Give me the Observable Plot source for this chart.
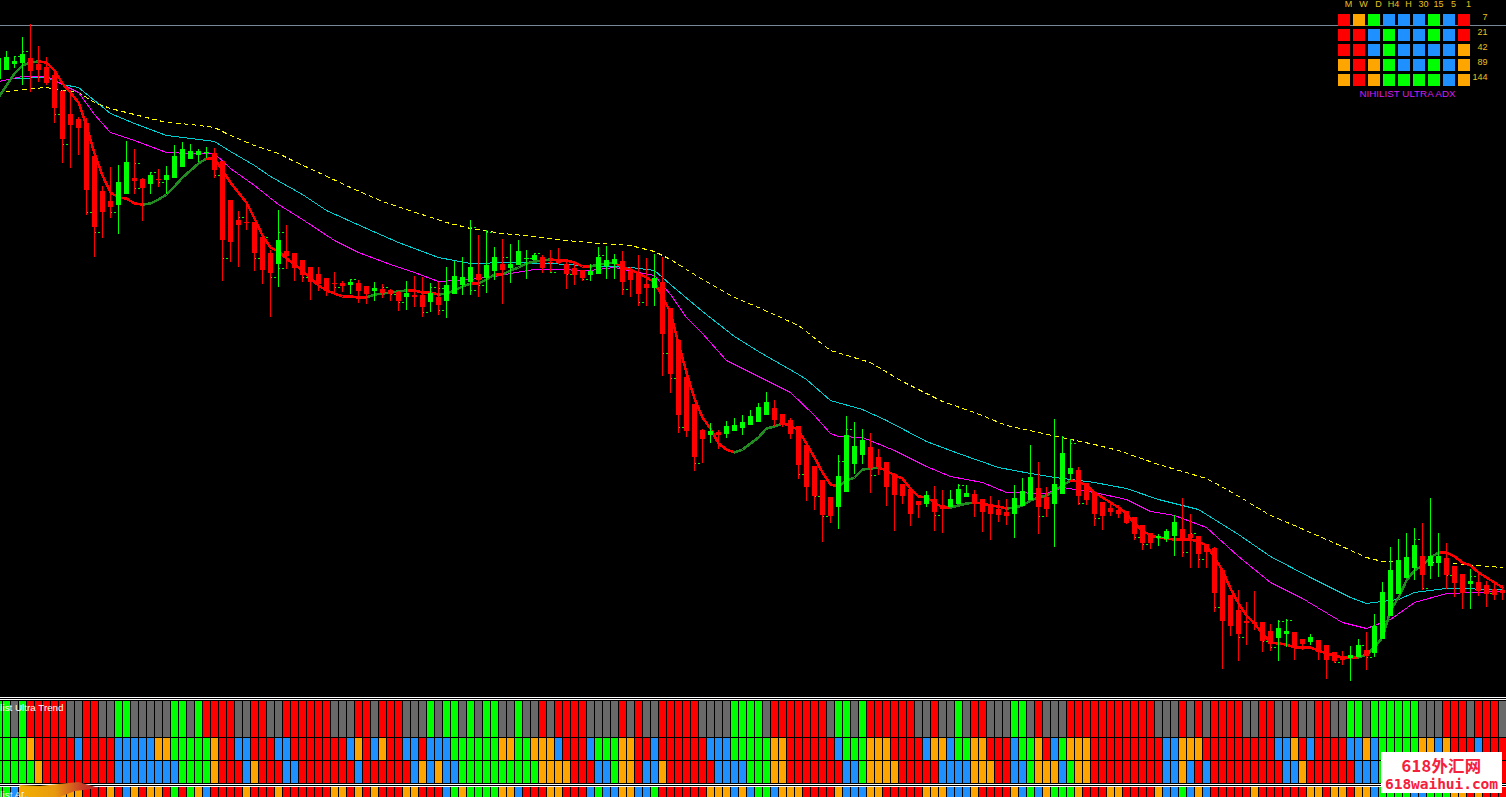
<!DOCTYPE html>
<html>
<head>
<meta charset="utf-8">
<script src="https://cdn.jsdelivr.net/npm/d3@7"></script>
<script src="https://cdn.jsdelivr.net/npm/@observablehq/plot@0.6"></script>
<style>
html,body{margin:0;padding:0;background:#000;overflow:hidden}
#chart{position:relative;width:1506px;height:797px;overflow:hidden;background:#000}
#chart svg{position:absolute;display:block;max-width:none}
.sep{position:absolute;left:0;width:1506px;height:1px;background:#fff}
#swoosh{position:absolute;left:19px;top:782px;width:80px;height:15px;background:linear-gradient(90deg,#f2b000,#e89a10 45%,#c83a28 80%,#b02a2a);clip-path:polygon(0 20%,26% 27%,74% 0,100% 40%,70% 60%,51% 100%,10% 100%,4% 53%)}
#mark{position:absolute;left:1381px;top:752px;width:121px;height:41px;background:#fff;color:#f5203c;text-align:center;font-weight:bold}
#mark .a{font:bold 16.4px/20px "Noto Sans CJK SC",sans-serif;letter-spacing:.3px;margin-top:3px}
#mark .b{font:bold 14.6px/17px "DejaVu Sans Mono",monospace;letter-spacing:-.1px;margin-top:0}
</style>
</head>
<body>
<div id="chart"></div>
<script>
const candleColors = "G4 R11 G2 R2 G1 R1 G6 R8 G1 R8 G1 R2 G1 R3 G1 R2 G1 R1 G4 R1 G2 R1 G4 R6 G4 R4 G1 R6 G1 R1 G6 R8 G4 R7 G1 R2 G3 R5 G3 R2 G3 R10 G3 R12 G2 R2 G1 R4 G2 R1 G6 R1 G2 R3 G1 R4";
const bodyTop = [58,57,61,54,58,64,67,75,91,114,
119,123,156,191,201,182,162,178,179,175,
179,175,156,149,151,151,152,153,161,200,
220,222,222,237,253,240,251,253,260,267,
274,278,283,283,282,283,286,288,289,290,
292,293,295,295,293,297,285,276,277,267,
274,265,257,264,264,251,258,255,257,262,
262,264,268,270,271,257,260,259,261,271,
273,284,278,282,308,340,377,404,430,431,
432,426,425,422,416,407,402,408,414,420,
426,445,466,480,497,476,435,446,440,447,
457,462,474,484,489,501,495,499,505,499,
489,493,494,499,504,509,512,498,491,477,
488,497,484,453,468,470,483,492,502,508,
510,511,517,525,533,536,531,522,529,534,
536,544,548,570,595,610,621,622,622,631,
628,631,632,639,637,640,645,652,656,655,
645,650,626,592,570,560,557,545,556,556,
556,558,566,574,581,582,585,589,590];
const bodyBottom = [79,70,64,63,71,70,83,108,139,125,
128,190,227,212,207,205,194,181,188,184,
180,180,178,167,159,155,153,170,240,242,
225,223,253,270,273,264,256,268,275,282,
284,290,284,286,285,291,294,291,293,294,
301,297,297,307,302,305,301,294,285,282,
280,278,271,270,268,265,259,260,268,263,
263,274,275,278,275,274,266,264,282,280,
294,288,288,334,374,415,431,457,439,435,
435,434,431,428,425,422,415,420,425,434,
465,487,496,515,516,507,492,464,455,468,
467,487,495,496,514,505,504,512,509,507,
504,497,504,512,514,515,516,514,506,500,
507,509,504,494,474,496,500,514,516,512,
514,523,534,543,543,538,539,536,540,538,
554,552,593,621,626,634,623,624,641,644,
638,634,647,644,642,652,660,661,660,658,
657,656,653,639,616,594,578,568,575,566,
563,575,583,593,584,591,594,595,593];
const wickHigh = [50,51,56,37,24,46,57,73,90,90,
117,118,156,186,167,165,141,149,178,172,
169,166,145,142,144,149,147,148,161,200,
211,202,222,235,250,210,225,253,260,267,
267,278,272,281,279,280,286,282,284,289,
291,281,276,277,283,282,267,261,257,220,
235,230,247,239,244,240,250,253,255,250,
248,260,262,270,264,247,246,254,251,267,
255,258,254,257,308,340,377,404,429,423,
430,421,418,415,410,403,392,400,414,418,
426,445,466,480,497,455,416,422,429,433,
449,462,473,484,489,501,491,486,490,490,
484,485,490,499,496,500,499,485,478,445,
462,487,419,436,439,467,483,492,502,502,
505,511,517,525,533,534,529,515,498,514,
536,544,547,570,595,590,602,591,622,624,
620,619,632,639,634,640,645,652,651,646,
639,632,614,582,547,539,533,528,523,498,
533,543,566,574,569,574,581,584,585];
const wickLow = [86,70,68,85,92,82,85,123,163,168,
155,215,257,238,218,234,194,194,221,194,
187,194,178,167,159,162,158,178,281,262,
267,230,271,284,317,287,269,281,282,300,
291,296,292,292,294,303,304,301,298,301,
311,310,307,317,312,315,318,294,295,295,
297,293,280,304,283,265,279,260,273,272,
264,289,285,281,281,274,279,279,295,297,
306,306,306,376,393,433,437,471,463,443,
449,438,431,435,425,422,415,426,427,439,
479,501,510,542,523,529,492,474,464,493,
475,506,531,504,526,518,507,531,533,507,
504,497,517,532,540,522,525,538,506,500,
534,517,547,494,480,505,505,526,530,516,
518,524,540,550,549,546,542,556,557,568,
568,568,612,669,636,661,645,630,652,651,
661,647,660,650,645,660,679,663,665,681,
657,670,657,639,616,594,578,580,590,579,
577,589,597,609,609,596,607,600,600];

// the thick coloured average, one value per candle
const trendLine = [97,85,73,65,62,61,62,70,83,92,
102,125,153,175,192,197,198,203,204,203,
199,194,186,177,170,163,158,158,170,182,
192,202,218,235,247,251,258,264,270,278,
285,290,293,296,296,297,297,294,293,292,
291,290,290,292,292,294,293,290,286,283,
283,279,274,274,270,267,263,261,260,259,
260,260,262,266,266,264,263,262,267,269,
273,277,282,296,312,343,372,398,417,428,
443,449,452,449,443,437,428,426,423,425,
430,443,457,472,484,486,480,477,469,468,
467,470,475,478,488,496,497,502,507,507,
505,503,502,503,505,506,508,507,505,500,
497,495,490,485,480,481,485,492,497,502,
507,513,523,530,535,537,538,539,539,539,
541,545,557,570,588,603,615,623,633,642,
643,644,647,647,647,650,653,655,657,657,
657,654,647,637,610,597,580,570,565,557,
552,552,556,562,565,572,577,582,587];

const yellowIndex = [0,3,6,8,10,12,14,17,21,24,27,29,32,35,37,40,44,48,51,56,59,63,67,71,75,79,82,84,88,92,95,100,104,109,113,118,122,126,130,137,140,145,151,154,159,162,166,171,173,180,188];
const yellowLevel = [92,89,87,90,92,102,108,114,122,124,127,135,145,153,161,172,187,201,209,222,228,233,236,240,243,245,251,259,279,297,307,325,350,362,381,401,412,425,432,444,450,464,478,491,515,525,539,557,561,562,567];
const cyanIndex = [0,2,6,8,10,12,14,17,21,24,27,29,32,34,38,41,46,50,55,59,64,69,73,79,82,84,88,92,95,100,101,104,108,111,116,120,125,129,132,137,141,145,150,155,159,164,169,171,175,177,181,188];
const cyanLevel = [81,78,77,84,87,100,113,123,135,138,141,151,165,176,194,210,228,242,257,263,262,263,265,267,270,284,311,336,351,374,379,400,409,420,441,453,467,473,477,482,488,499,509,534,556,577,597,603,599,592,588,589];
const magentaIndex = [0,3,6,8,10,12,14,17,21,24,27,29,32,35,38,42,45,49,52,55,59,62,64,67,69,74,77,80,82,84,86,88,91,96,99,102,104,105,108,112,116,119,123,126,131,133,137,141,144,147,151,155,159,163,168,171,174,177,181,188];
const magentaLevel = [81,76,76,84,92,114,132,140,152,153,153,168,185,204,219,240,252,264,272,281,279,276,273,269,269,270,267,272,275,294,317,333,360,380,392,415,433,436,437,450,466,476,482,492,493,487,492,499,511,515,527,556,582,598,622,628,619,602,593,591];

// small green dashes beside the candles
const dashIndex = [2,3,7,8,11,12,14,17,17,19,20,27,28,30,32,33,34,35,35,38,42,44,48,49,50,53,54,55,55,59,59,60,61,63,66,67,69,71,73,75,78,80,83,84,85,87,100,102,103,105,106,109,117,120,130,134,135,137,142,143,145,148,149,150,152,155,158,159,160,161,167,170,171,177,178,181,184,186];
const dashLevel = [56,51,114,144,212,232,212,163,188,172,182,175,258,217,258,237,277,232,268,277,287,279,287,294,302,312,287,288,310,227,290,285,232,257,258,253,272,274,279,255,289,302,353,378,427,463,474,496,516,461,429,475,515,485,516,443,503,518,537,544,537,552,533,559,607,637,641,647,621,620,662,645,657,539,588,575,576,593];

// Nihilist Ultra Trend rows and the row below them, one colour letter per bar as letter + run length
const trendRow1 = "G2 K1 G1 R5 K2 R2 K2 G2 K5 G2 K1 G1 R4 K2 R2 K2 R6 K3 R2 K1 R3 K3 G1 K1 G2 K1 G1 K1 G2 K2 G1 K2 R1 K1 R4 K4 R1 K1 R1 K2 R5 K4 G4 K1 R4 R3 K1 G2 K1 G1 R6 K2 R1 K2 G1 K1 R2 K3 G2 K1 R1 K3 R11 K3 R1 K1 R1 K1 R4 K2 R2 K2 R1 K2 R2 K2 G2 K1 G6 K3 R3 K1 R3 K1";
const trendRow2 = "G4 O1 R5 B1 R4 B5 O2 G5 O1 R2 B2 R3 B2 R7 B1 O1 R1 B1 O1 R2 B2 R1 B3 G6 O2 G2 O3 B1 R3 B1 G3 O2 R2 B1 R6 B3 G5 O2 R2 R4 B1 G3 O3 R4 B1 O2 B1 G2 O2 R3 B1 G2 O1 R1 B1 G1 O3 R9 B2 O3 R9 B2 O1 R1 B1 R4 B2 O1 B1 G5 O2 B1 O1 R3 B1 R3";
const trendRow3 = "G5 O1 R9 B8 G4 O1 R3 B1 O1 R3 B2 R7 B1 R5 R1 B1 O1 B1 O1 B2 G10 O4 R3 B2 G1 O2 R1 B2 O1 R6 B4 G3 O2 R2 R5 B2 G1 O4 R5 B4 O3 R2 B2 G1 O3 B1 G1 O2 R9 B2 O1 B1 R1 B1 R9 B2 O1 R6 B3 G5 O2 B1 O1 R3 B1 R3";
const adxRow = "G2 B1 O8 R3 O1 R1 B1 O1 R1 O2 R1 G1 R1 G1 O1 B1 R4 O1 R3 O1 R6 O2 R1 O1 R1 O1 R3 O2 R3 B1 G1 O1 G4 O2 B1 R3 O2 R3 B1 G1 B2 O2 B2 G1 R6 O3 B1 O1 B1 G2 B1 O3 R4 O1 B3 O2 R5 O3 B3 O1 R4 O1 B1 G1 B1 O1 G3 O1 R3 O2 R4 O1 B2 G1 B1 O1 B1 R5 O1 R6 O2 R1 O2 R1 O2 B1 G4 B2 G3 O2 R1 O1 R3";

// top-right strength matrix
const matrixColumns = ["M","W","D","H4","H","30","15","5","1"];
const matrixRows = ["7","21","42","89","144"];
const matrixCells = ["ROGBBBGBR","RRBGBBGBR","RRBGBBBBO","OROGBBGBO","OROGGGGBO"];

const palette = {R:"#ff0000",G:"#00ff00",B:"#1e90ff",O:"#ffa500",K:"#696969"};

// ---- helpers ----
const expand = s => s.split(" ").flatMap(r => Array(+r.slice(1)).fill(r[0]));
const root = document.getElementById("chart");
function place(svg, left, top){ svg.style.left = left+"px"; svg.style.top = top+"px"; root.appendChild(svg); }
function div(cls, top){ const d=document.createElement("div"); d.className=cls; if(top!=null)d.style.top=top+"px"; root.appendChild(d); return d; }

const N = bodyTop.length;
const colors = expand(candleColors);
const candles = d3.range(N).map(i => ({i, top:bodyTop[i], bottom:bodyBottom[i], high:wickHigh[i], low:wickLow[i], color:palette[colors[i]]}));
const trend = trendLine.map((v,i) => ({i, v, color: (i+1<N ? trendLine[i+1]<v : v<trendLine[i-1]) ? "#228b22" : "#ff0000"}));
const pairs = (a,b) => a.map((x,k) => ({i:x, v:b[k]}));
const dashes = pairs(dashIndex, dashLevel);

// ---- price pane ----
place(Plot.plot({
  width:1506, height:701, margin:0,
  style:{background:"#000", shapeRendering:"crispEdges"},
  x:{domain:[0,188], range:[-2,1502], axis:null},
  y:{domain:[0,701], range:[0,701], axis:null},
  color:{type:"identity"},
  marks:[
    Plot.ruleY([25],{stroke:"#778899"}),
    Plot.ruleY([697,699],{stroke:"#fff"}),
    Plot.line(pairs(yellowIndex,yellowLevel),{x:"i",y:"v",stroke:"#ffff00",strokeWidth:1,strokeDasharray:"4,4"}),
    Plot.line(pairs(cyanIndex,cyanLevel),{x:"i",y:"v",stroke:"#00ced1",strokeWidth:1}),
    Plot.line(pairs(magentaIndex,magentaLevel),{x:"i",y:"v",stroke:"#ff00ff",strokeWidth:1}),
    Plot.line(trend,{x:"i",y:"v",z:null,stroke:"color",strokeWidth:2.5}),
    Plot.ruleY(dashes,{x1:"i",x2:d=>d.i+1,y:"v",stroke:"#00ff00",strokeDasharray:"2,2"}),
    Plot.ruleX(candles,{x:"i",y1:"high",y2:"low",stroke:"color"}),
    Plot.ruleX(candles,{x:"i",y1:"top",y2:"bottom",stroke:"color",strokeWidth:5})
  ]
}),0,0);

// ---- indicator rows ----
function row(letters, top, height, extra=[]){
  const cells = expand(letters).map((c,i)=>({i,color:palette[c]}));
  if(cells.length!==N) throw new Error("row length "+cells.length);
  place(Plot.plot({
    width:1506, height, margin:0,
    style:{background:"#000", shapeRendering:"crispEdges"},
    x:{type:"band", domain:d3.range(N), range:[-5,1506], paddingInner:0.125, paddingOuter:0, round:false, axis:null},
    color:{type:"identity"},
    marks:[Plot.cell(cells,{x:"i",fill:"color"}), ...extra]
  }),0,top);
}
const labelFont = {fontFamily:"Liberation Sans", fontSize:9.8, fill:"#fff", stroke:null};
row(trendRow1,701,36,[Plot.text(["Nihilist Ultra Trend"],{...labelFont,frameAnchor:"top-left",textAnchor:"end",dx:63,dy:3})]);
row(trendRow2,738,22);
row(trendRow3,761,22);
div("sep",784); div("sep",786);
row(adxRow,787,10,[Plot.text(["Nihilist ADX"],{...labelFont,frameAnchor:"left",textAnchor:"start",dx:-17,dy:2,fill:"#e8f4ff"})]);
div("",null).id="swoosh";

// ---- strength matrix ----
const matrix = matrixRows.flatMap((r,ri)=>matrixColumns.map((c,ci)=>({r,c,color:palette[matrixCells[ri][ci]]})));
const gold = "#e8c020";
place(Plot.plot({
  width:186, height:105, marginLeft:16.5, marginRight:34.5, marginTop:12.5, marginBottom:17.5,
  style:{background:"transparent", shapeRendering:"crispEdges"},
  x:{type:"band", domain:matrixColumns, paddingInner:0.2, paddingOuter:0.1, round:false, axis:null},
  y:{type:"band", domain:matrixRows, paddingInner:0.2, paddingOuter:0.1, round:false, axis:null},
  color:{type:"identity"},
  marks:[
    Plot.cell(matrix,{x:"c",y:"r",fill:"color"}),
    Plot.axisX({anchor:"top",tickSize:0,tickPadding:3,dx:4,dy:-3,fill:gold,fontSize:9,fontFamily:"Liberation Sans",label:null}),
    Plot.text(matrixRows,{y:d=>d,text:d=>d,frameAnchor:"right",textAnchor:"end",dx:15.5,dy:-3,fill:gold,fontSize:9,fontFamily:"Liberation Sans"}),
    Plot.text(["NIHILIST ULTRA ADX"],{frameAnchor:"bottom",dx:3,dy:9,fill:"#d21ef0",fontSize:9.8,fontFamily:"Liberation Sans",letterSpacing:"0.4px"})
  ]
}),1320,0);

// ---- watermark ----
const mark = div("",null); mark.id="mark";
mark.innerHTML = '<div class="a">618外汇网</div><div class="b">618waihui.com</div>';
</script>
</body>
</html>
